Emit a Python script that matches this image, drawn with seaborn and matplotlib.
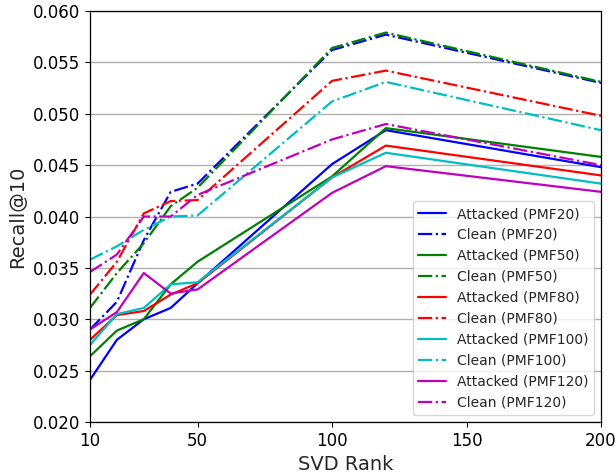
import numpy as np
import pandas as pd
import seaborn as sns
import matplotlib
matplotlib.use("Agg")
import matplotlib.pyplot as plt
from matplotlib.ticker import FormatStrFormatter

ranks = [10, 20, 30, 40, 50, 100, 120, 200]

attacked_pmf20 = [0.0241, 0.0280, 0.0300, 0.0311, 0.0335, 0.0451, 0.0484, 0.0448]
clean_pmf20 = [0.0290, 0.0317, 0.0377, 0.0424, 0.0432, 0.0562, 0.0577, 0.0530]
attacked_pmf50 = [0.0264, 0.0289, 0.0300, 0.0334, 0.0356, 0.0439, 0.0486, 0.0458]
clean_pmf50 = [0.0311, 0.0345, 0.0374, 0.0410, 0.0428, 0.0564, 0.0579, 0.0531]
attacked_pmf80 = [0.0280, 0.0304, 0.0308, 0.0324, 0.0335, 0.0438, 0.0469, 0.0440]
clean_pmf80 = [0.0324, 0.0356, 0.0403, 0.0415, 0.0416, 0.0532, 0.0542, 0.0498]
attacked_pmf100 = [0.0275, 0.0305, 0.0311, 0.0334, 0.0336, 0.0438, 0.0462, 0.0432]
clean_pmf100 = [0.0358, 0.0371, 0.0387, 0.0400, 0.0401, 0.0512, 0.0531, 0.0484]
attacked_pmf120 = [0.0290, 0.0307, 0.0345, 0.0325, 0.0329, 0.0423, 0.0449, 0.0424]
clean_pmf120 = [0.0346, 0.0363, 0.0400, 0.0400, 0.0421, 0.0475, 0.0490, 0.0450]

series = [
    ("Attacked (PMF20)", attacked_pmf20, "#0000ff", "-"),
    ("Clean (PMF20)", clean_pmf20, "#0000ff", "-."),
    ("Attacked (PMF50)", attacked_pmf50, "#008000", "-"),
    ("Clean (PMF50)", clean_pmf50, "#008000", "-."),
    ("Attacked (PMF80)", attacked_pmf80, "#ff0000", "-"),
    ("Clean (PMF80)", clean_pmf80, "#ff0000", "-."),
    ("Attacked (PMF100)", attacked_pmf100, "#00bfbf", "-"),
    ("Clean (PMF100)", clean_pmf100, "#00bfbf", "-."),
    ("Attacked (PMF120)", attacked_pmf120, "#bf00bf", "-"),
    ("Clean (PMF120)", clean_pmf120, "#bf00bf", "-."),
]

sns.set_theme(style="white")
plt.rcParams['font.family'] = ['DejaVu Sans']

fig = plt.figure(figsize=(6.16, 4.74), dpi=100)
ax = fig.add_axes([90/616, 1-422/474, (601-90)/616, (422-11)/474])

for name, vals, color, ls in series:
    df = pd.DataFrame({"rank": ranks, "recall": vals})
    sns.lineplot(data=df, x="rank", y="recall", ax=ax, color=color,
                 linestyle=ls, linewidth=1.6, label=name)

ax.set_xlim(10, 200)
ax.set_ylim(0.020, 0.060)
ax.set_xticks([10, 50, 100, 150, 200])
ax.set_yticks(np.arange(0.020, 0.0601, 0.005))
ax.yaxis.set_major_formatter(FormatStrFormatter('%.3f'))
ax.yaxis.grid(True, color='#b0b0b0', linewidth=1.0)
ax.xaxis.grid(False)
ax.tick_params(axis='both', labelsize=12, direction='out', length=3.5, width=0.8,
               bottom=True, left=True, colors='black')
for sp in ax.spines.values():
    sp.set_color('black')
    sp.set_linewidth(0.9)
ax.set_xlabel("SVD Rank", fontsize=14, labelpad=4)
ax.set_ylabel("Recall@10", fontsize=14, labelpad=4)

leg = ax.legend(loc='lower right', fontsize=10, frameon=True, handlelength=2.0)
leg.get_frame().set_edgecolor('#cccccc')

fig.savefig("out.png", dpi=100)
